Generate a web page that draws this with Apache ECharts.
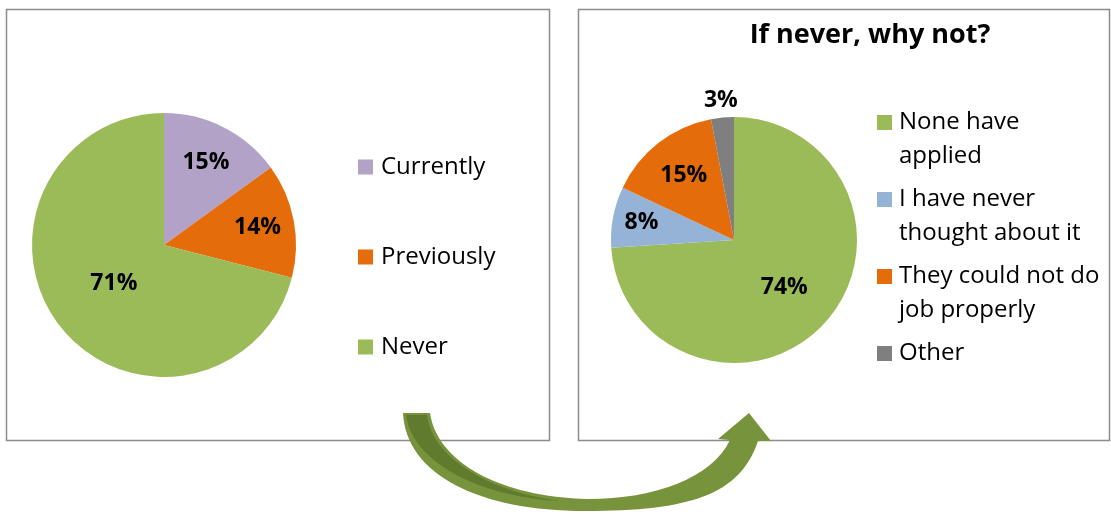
<!DOCTYPE html>
<html>
<head>
<meta charset="utf-8">
<script src="https://cdn.jsdelivr.net/npm/echarts@6/dist/echarts.min.js"></script>
<style>
html,body{margin:0;padding:0;background:#fff;}
#chart{width:1111px;height:514px;}
</style>
</head>
<body>
<div id="chart"></div>
<script>
// ---- data ----
var leftCategories = ['Currently', 'Previously', 'Never'];
var leftValues = [15, 14, 71];
var rightTitle = 'If never, why not?';
var rightCategories = ['None have\napplied', 'I have never\nthought about it', 'They could not do\njob properly', 'Other'];
var rightValues = [74, 8, 15, 3];

// ---- styles ----
var FONT = '"Open Sans", "Noto Sans", sans-serif';
var leftColors = ['#B3A2C7', '#E46C0A', '#9BBB59'];
var rightColors = ['#9BBB59', '#95B3D7', '#E46C0A', '#7F7F7F'];
var leftCenter = [164, 245], leftR = 132;
var rightCenter = [734, 240], rightR = 123;
// radial label distance factors relative to default 'inside' position (0.5 r)
var leftLabelK = [1.34, 1.38, 0.92];
var rightLabelK = [1.07, 1.46, 1.27, 2.17];

// decorative arrow shapes
echarts.graphic.registerShape('arrowBody', echarts.graphic.extendPath(
  'M403,413 L430,413 C437,462 500,497 588,499 C655,499 712,478 730,440 L718,439 L749,413 L771,441 L758,441 ' +
  'C740,495 690,511 585,511 C480,511 406,475 403,413 Z', {}));
echarts.graphic.registerShape('arrowShade', echarts.graphic.extendPath(
  'M406,415 L427,415 C432,458 490,492 560,501 C480,497 412,462 406,415 Z', {}));

function makeData(names, vals, colors) {
  return names.map(function (n, i) {
    return { name: n, value: vals[i], itemStyle: { color: colors[i] } };
  });
}

var chart = echarts.init(document.getElementById('chart'), null, { renderer: 'canvas' });

var labelStyle = {
  show: true,
  position: 'inside',
  formatter: '{c}%',
  fontFamily: FONT,
  fontSize: 23,
  fontWeight: 'bold',
  color: '#000'
};

var option = {
  animation: false,
  backgroundColor: '#fff',
  title: {
    text: rightTitle,
    left: 865,
    top: 17,
    textAlign: 'center',
    textStyle: { fontFamily: FONT, fontSize: 27, fontWeight: 'bold', color: '#000' }
  },
  legend: [
    {
      seriesIndex: 0,
      data: leftCategories,
      orient: 'vertical',
      left: 358,
      top: 155,
      padding: 0,
      itemGap: 66,
      itemWidth: 15,
      itemHeight: 15,
      icon: 'rect',
      selectedMode: false,
      itemStyle: { borderWidth: 0 },
      textStyle: { fontFamily: FONT, fontSize: 24, color: '#000', lineHeight: 24, padding: [0, 0, 0, 3] }
    },
    {
      data: rightCategories.map(function (n) {
        return {
          name: n,
          icon: 'path://M0,0L15,0L15,15L0,15Z M0,48L15,48'
        };
      }),
      orient: 'vertical',
      left: 877,
      top: 105,
      padding: 0,
      itemGap: 9,
      itemWidth: 15,
      itemHeight: 48,
      selectedMode: false,
      itemStyle: { borderWidth: 0 },
      formatter: function (n) { return n.indexOf('\n') >= 0 ? n : n + '\n '; },
      textStyle: { fontFamily: FONT, fontSize: 24, color: '#000', lineHeight: 34, padding: [0, 0, 0, 2] }
    }
  ],
  graphic: [
    { type: 'rect', z: 0, silent: true,
      shape: { x: 6.5, y: 9.5, width: 543, height: 431 },
      style: { fill: 'none', stroke: '#8C8C8C', lineWidth: 1.5 } },
    { type: 'rect', z: 0, silent: true,
      shape: { x: 578.5, y: 9.5, width: 531, height: 431 },
      style: { fill: 'none', stroke: '#8C8C8C', lineWidth: 1.5 } },
    { type: 'arrowBody', z: 100, silent: true, style: { fill: '#77933C' } },
    { type: 'arrowShade', z: 101, silent: true, style: { fill: '#607A2E' } }
  ],
  series: [
    {
      type: 'pie',
      name: 'left',
      center: leftCenter,
      radius: leftR,
      startAngle: 90,
      clockwise: true,
      avoidLabelOverlap: false,
      itemStyle: { borderWidth: 0 },
      emphasis: { disabled: true },
      label: labelStyle,
      labelLine: { show: false },
      labelLayout: function (p) {
        var r = p.labelRect, k = leftLabelK[p.dataIndex];
        var x = r.x + r.width / 2, y = r.y + r.height / 2;
        return { x: leftCenter[0] + (x - leftCenter[0]) * k, y: leftCenter[1] + (y - leftCenter[1]) * k };
      },
      data: makeData(leftCategories, leftValues, leftColors)
    },
    {
      type: 'pie',
      name: 'right',
      center: rightCenter,
      radius: rightR,
      startAngle: 90,
      clockwise: true,
      avoidLabelOverlap: false,
      itemStyle: { borderWidth: 0 },
      emphasis: { disabled: true },
      label: labelStyle,
      labelLine: { show: false },
      labelLayout: function (p) {
        var r = p.labelRect, k = rightLabelK[p.dataIndex];
        var x = r.x + r.width / 2, y = r.y + r.height / 2;
        return { x: rightCenter[0] + (x - rightCenter[0]) * k, y: rightCenter[1] + (y - rightCenter[1]) * k };
      },
      data: makeData(rightCategories, rightValues, rightColors)
    }
  ]
};
chart.setOption(option);
</script>
</body>
</html>
